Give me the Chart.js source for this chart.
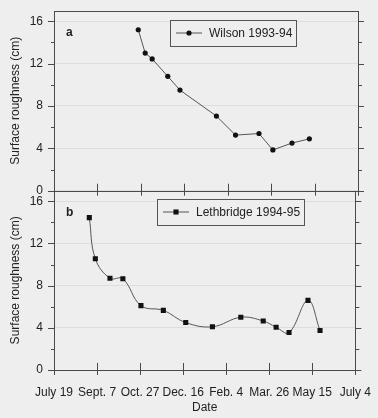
<!DOCTYPE html>
<html>
<head>
<meta charset="utf-8">
<script src="https://cdn.jsdelivr.net/npm/chart.js@4.4.0/dist/chart.umd.min.js"></script>
<style>
  html, body { margin: 0; padding: 0; background: #eeeeee; }
  #wrap { position: relative; width: 378px; height: 418px; }
  canvas { position: absolute; left: 0; top: 0; }
</style>
</head>
<body>
<div id="wrap">
  <canvas id="chartB" width="378" height="418"></canvas>
  <canvas id="chartA" width="378" height="200"></canvas>
</div>
<script>
// x values are days counted from July 19
const tickDays = [0, 50, 100, 150, 200, 250, 300, 350];
const tickLabels = ['July 19', 'Sept. 7', 'Oct. 27', 'Dec. 16', 'Feb. 4', 'Mar. 26', 'May 15', 'July 4'];

const wilsonDays = [97, 105, 113, 131, 145, 187, 209, 236, 252, 274, 294];
const wilsonRough = [15.2, 13.0, 12.45, 10.8, 9.5, 7.05, 5.25, 5.4, 3.85, 4.5, 4.9];

const lethDays = [41, 48, 65, 80, 101, 127, 153, 184, 217, 243, 258, 273, 295, 309];
const lethRough = [14.45, 10.55, 8.7, 8.65, 6.1, 5.65, 4.5, 4.1, 5.0, 4.65, 4.05, 3.55, 6.6, 3.75];

const FONT = "'Liberation Sans', Arial, sans-serif";
const INK = '#222';
const AXIS = '#4a4a4a';
const PAPER = '#eeeeee';
const splitY = 190.7;

function framePlugin(letter, legendBox) {
  return {
    id: 'frame',
    afterDraw(chart) {
      const { ctx, chartArea: a, scales: { x, y } } = chart;
      ctx.save();
      ctx.strokeStyle = AXIS;
      ctx.lineWidth = 1;
      ctx.strokeRect(Math.round(a.left) + 0.5, Math.round(a.top) + 0.5,
        Math.round(a.right - a.left), Math.round(a.bottom - a.top));
      ctx.beginPath();
      for (let v = 0; v <= 16; v += 2) {
        const py = Math.round(y.getPixelForValue(v)) + 0.5;
        const major = v % 4 === 0;
        ctx.moveTo(a.left - (major ? 6 : 3), py); ctx.lineTo(a.left, py);
        ctx.moveTo(a.right, py); ctx.lineTo(a.right + (major ? 6 : 4), py);
      }
      tickDays.forEach(d => {
        const px = Math.round(x.getPixelForValue(d)) + 0.5;
        ctx.moveTo(px, a.bottom - 7); ctx.lineTo(px, a.bottom + 5);
      });
      ctx.stroke();

      // panel letter
      ctx.fillStyle = INK;
      ctx.font = 'bold 12px ' + FONT;
      ctx.textBaseline = 'middle';
      ctx.fillText(letter, a.left + 12, a.top + 22);

      // legend box
      const ds = chart.data.datasets[0];
      const b = legendBox;
      ctx.fillStyle = PAPER;
      ctx.fillRect(b.x, b.y, b.w, b.h);
      ctx.strokeStyle = '#555';
      ctx.strokeRect(b.x + 0.5, b.y + 0.5, b.w, b.h);
      const my = b.y + b.h / 2;
      ctx.strokeStyle = ds.borderColor;
      ctx.beginPath();
      ctx.moveTo(b.x + 6, my); ctx.lineTo(b.x + 32, my);
      ctx.stroke();
      ctx.fillStyle = '#111';
      Chart.helpers.drawPoint(ctx, { pointStyle: ds.pointStyle, radius: ds.pointRadius, rotation: 0, borderWidth: 0 }, b.x + 19, my);
      ctx.fillStyle = INK;
      ctx.font = '12px ' + FONT;
      ctx.fillText(ds.label, b.x + 39, my + 0.5);
      ctx.restore();
    }
  };
}

function makeChart(id, label, days, values, opts) {
  return new Chart(document.getElementById(id), {
    type: 'line',
    data: {
      datasets: [{
        label: label,
        data: days.map((d, i) => ({ x: d, y: values[i] })),
        borderColor: '#555',
        borderWidth: 1,
        pointStyle: opts.pointStyle,
        pointRadius: opts.pointRadius,
        pointBackgroundColor: '#111',
        pointBorderColor: '#111',
        pointBorderWidth: 0,
        tension: opts.tension
      }]
    },
    options: {
      responsive: false,
      animation: false,
      devicePixelRatio: 1,
      layout: { padding: opts.padding },
      plugins: { legend: { display: false }, tooltip: { enabled: false } },
      scales: {
        x: {
          type: 'linear', min: 0, max: 350,
          grid: { display: false },
          border: { display: false },
          ticks: {
            display: opts.showX,
            stepSize: 50, autoSkip: false, maxRotation: 0,
            color: INK, font: { family: FONT, size: 12 }, padding: 7,
            callback: v => tickLabels[tickDays.indexOf(v)]
          },
          title: {
            display: opts.showX, text: 'Date', color: INK,
            font: { family: FONT, size: 12 }, padding: { top: 0, bottom: 3 }
          },
          afterFit: s => { s.height = opts.xHeight; }
        },
        y: {
          min: 0, max: 17,
          grid: { color: 'rgba(0,0,0,0.07)', drawTicks: false },
          border: { display: false },
          ticks: {
            stepSize: 4, includeBounds: false,
            color: INK, font: { family: FONT, size: 12 }, padding: 11
          },
          title: {
            display: true, text: 'Surface roughness (cm)', color: INK,
            font: { family: FONT, size: 12 }, padding: { top: 8, bottom: 0 }
          },
          afterFit: s => { s.width = 54; s.paddingTop = 0; s.paddingBottom = 0; }
        }
      }
    },
    plugins: [framePlugin(opts.letter, opts.legendBox)]
  });
}

makeChart('chartA', 'Wilson 1993-94', wilsonDays, wilsonRough, {
  pointStyle: 'circle', pointRadius: 2.6, tension: 0,
  padding: { top: 10.7, right: 20, left: 0, bottom: 0 },
  showX: false, xHeight: 200 - splitY,
  letter: 'a', legendBox: { x: 170, y: 20, w: 126, h: 26 }
});

makeChart('chartB', 'Lethbridge 1994-95', lethDays, lethRough, {
  pointStyle: 'rect', pointRadius: 3.6, tension: 0.4,
  padding: { top: splitY, right: 20, left: 0, bottom: 0 },
  showX: true, xHeight: 48,
  letter: 'b', legendBox: { x: 157, y: 199, w: 147, h: 26 }
});
</script>
</body>
</html>
